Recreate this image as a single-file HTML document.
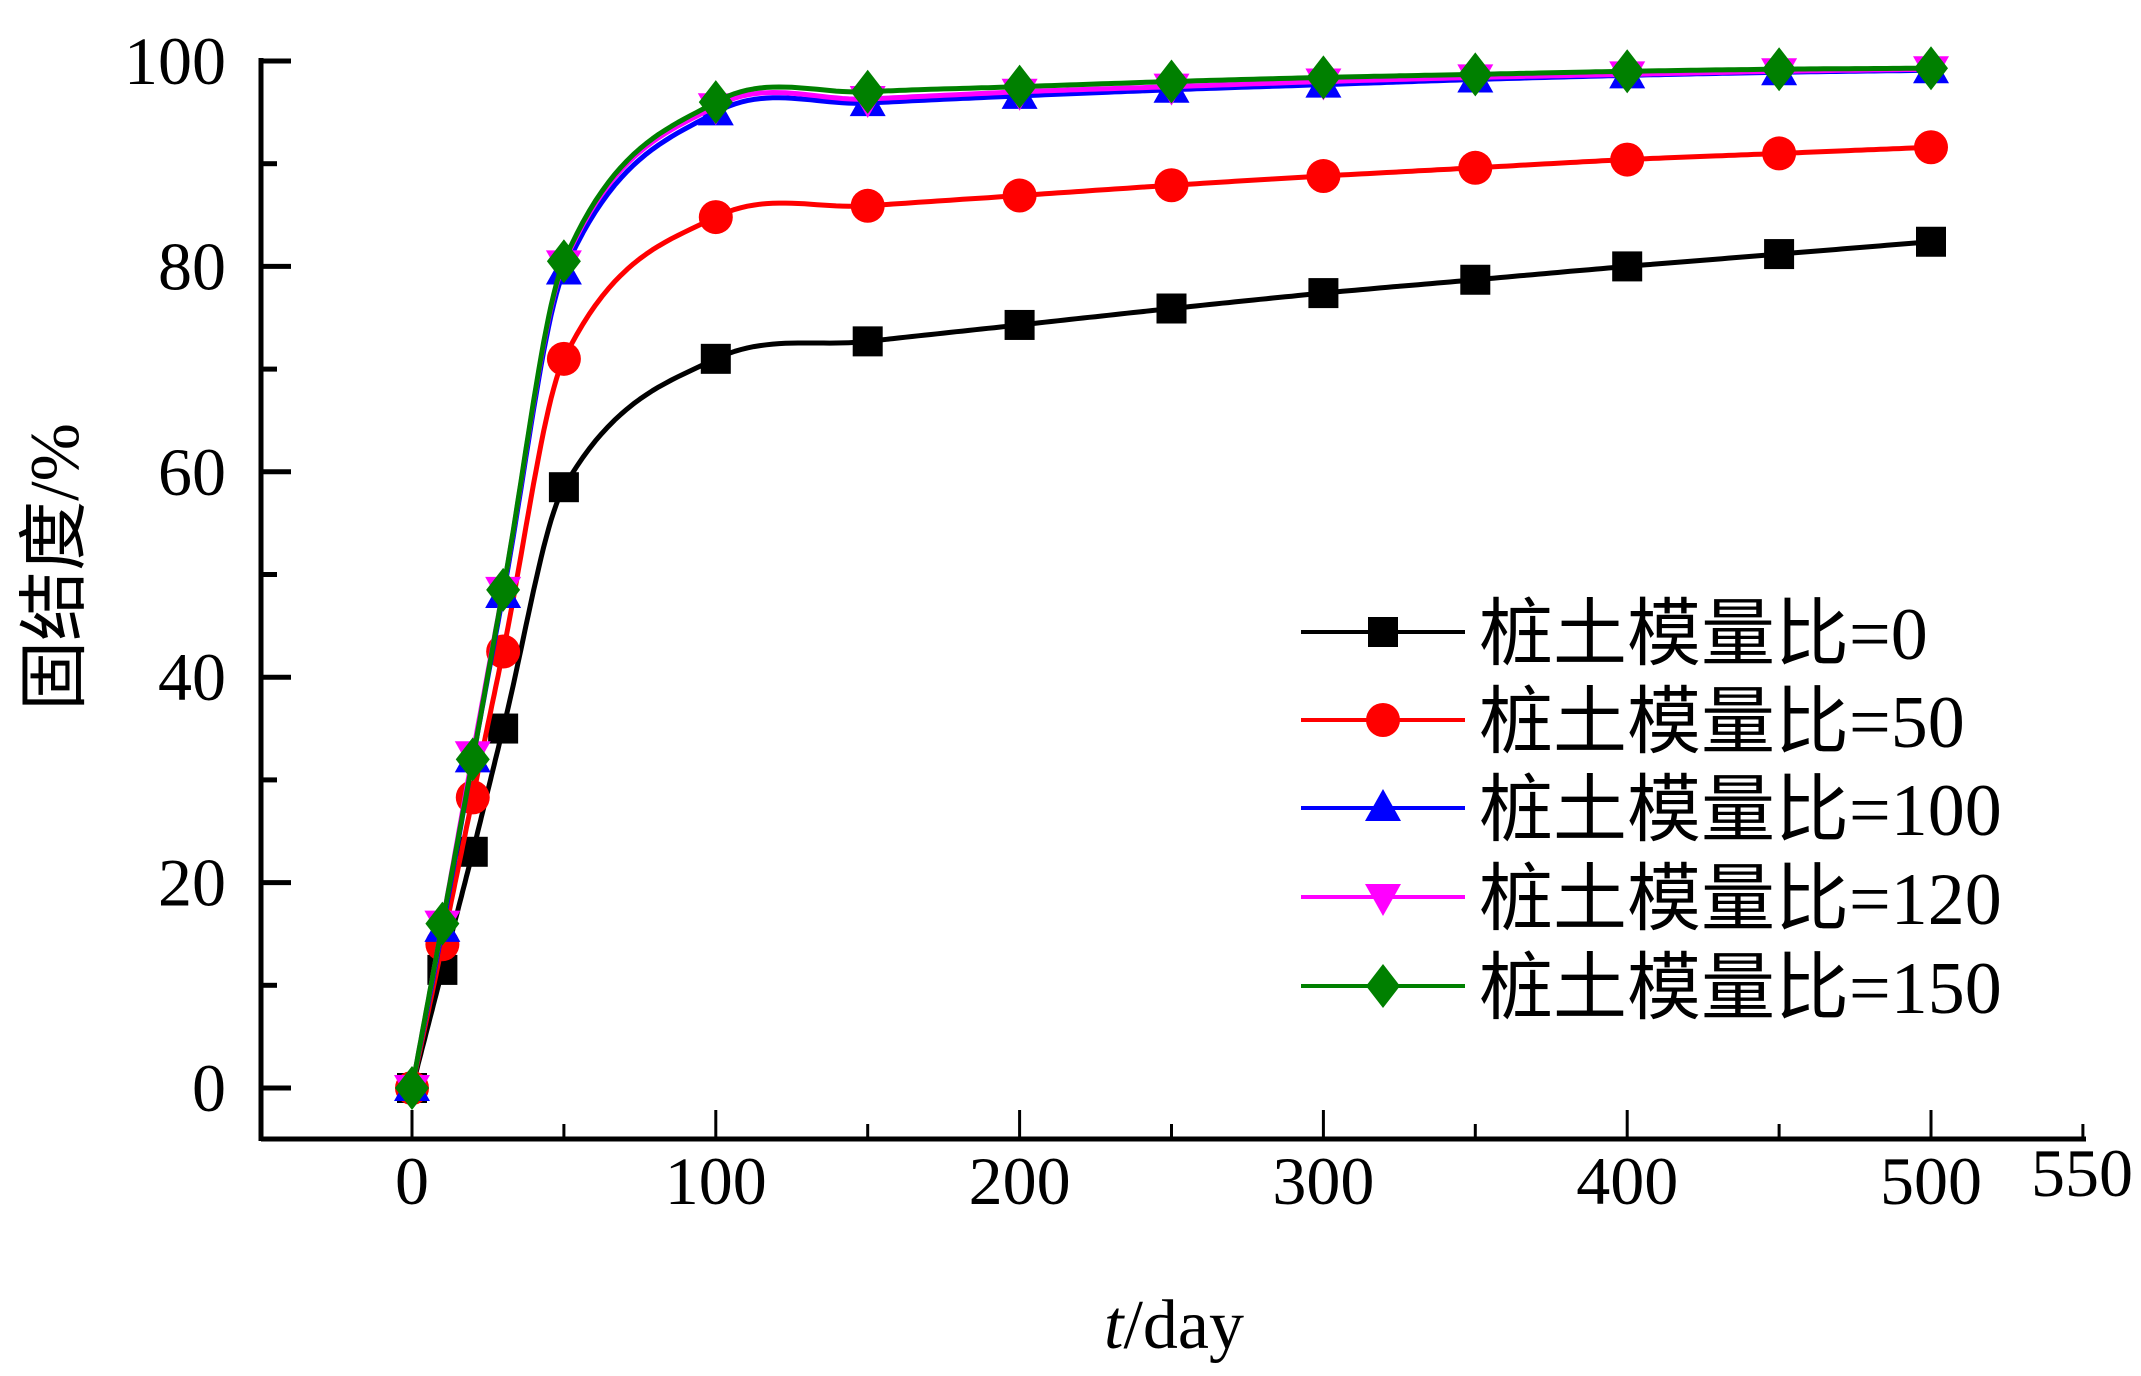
<!DOCTYPE html>
<html><head><meta charset="utf-8"><style>
html,body{margin:0;padding:0;background:#fff;}
svg{display:block;}
text{font-family:"Liberation Serif","Noto Serif CJK SC",serif;}
</style></head><body>
<svg id="chart" width="2141" height="1376" viewBox="0 0 2141 1376" xmlns="http://www.w3.org/2000/svg">
<g id="axes"></g>
<g id="series"></g>
<g id="legend"></g>
<text transform="translate(78,567) rotate(-90)" text-anchor="middle" font-size="70" style="font-family:'Liberation Serif','Noto Sans CJK SC',sans-serif">固结度/%</text>
<text x="1174" y="1348" text-anchor="middle" font-size="70"><tspan font-style="italic">t</tspan>/day</text>
</svg>
<script>
const times = [0,10,20,30,50,100,150,200,250,300,350,400,450,500];
const s0 = [0,11.5,23,35,58.5,71,72.7,74.3,75.9,77.4,78.7,80,81.2,82.4];
const s50 = [0,14,28.3,42.5,71,84.8,85.9,86.9,87.9,88.8,89.6,90.4,91,91.6];
const s100 = [0,15.5,32,48,79.5,95,95.9,96.6,97.2,97.7,98.2,98.6,98.9,99.1];
const s120 = [0,16,32.5,48.5,80.3,95.6,96.3,97,97.5,98,98.4,98.7,99,99.2];
const s150 = [0,16,32,48.5,80.5,96,97,97.5,98,98.4,98.7,99,99.2,99.3];
const seriesNames = ["桩土模量比=0","桩土模量比=50","桩土模量比=100","桩土模量比=120","桩土模量比=150"];
const xTicks = [0,100,200,300,400,500];
const yTicks = [0,20,40,60,80,100];

const NS="http://www.w3.org/2000/svg";
const X0=412, XS=(1931-412)/500, Y0=1088, YS=(1088-61)/100;
const xs=v=>X0+v*XS, ys=v=>Y0-v*YS;
function mk(tag,attrs,parent){const e=document.createElementNS(NS,tag);for(const k in attrs)e.setAttribute(k,attrs[k]);parent.appendChild(e);return e;}
const axes=document.getElementById('axes');
let e;
e=mk('line',{x1:261,y1:1139,x2:2086,y2:1139,stroke:'#000','stroke-width':5},axes);


e=mk('line',{x1:261,y1:58,x2:261,y2:1141,stroke:'#000','stroke-width':5},axes);


for(let v=0;v<=550;v+=50){
  const major=v%100===0;
  e=mk('line',{x1:xs(v),y1:1139,x2:xs(v),y2:major?1110:1124,stroke:'#000','stroke-width':3},axes);
  
  
}
xTicks.forEach(v=>{
  e=mk('text',{x:xs(v),y:1204,'text-anchor':'middle','font-size':68},axes);e.textContent=v;
  
  
});
e=mk('text',{x:2082,y:1196,'text-anchor':'middle','font-size':68},axes);e.textContent='550';


for(let v=0;v<=100;v+=10){
  const major=v%20===0;
  e=mk('line',{x1:261,y1:ys(v),x2:major?291:277,y2:ys(v),stroke:'#000','stroke-width':5},axes);
  
  
}
yTicks.forEach(v=>{
  e=mk('text',{x:226,y:ys(v)+23,'text-anchor':'end','font-size':68},axes);e.textContent=v;
  
  
});

function curve(xv,yv){
  const n=xv.length,m=[];
  for(let i=0;i<n;i++){
    if(i===0)m.push((yv[1]-yv[0])/(xv[1]-xv[0]));
    else if(i===n-1)m.push((yv[n-1]-yv[n-2])/(xv[n-1]-xv[n-2]));
    else m.push((yv[i+1]-yv[i-1])/(xv[i+1]-xv[i-1]));
  }
  const pts=[];
  for(let i=0;i<n-1;i++){
    const h=xv[i+1]-xv[i];
    for(let k=0;k<24;k++){
      const t=k/24,t2=t*t,t3=t2*t;
      const y=(2*t3-3*t2+1)*yv[i]+(t3-2*t2+t)*h*m[i]+(-2*t3+3*t2)*yv[i+1]+(t3-t2)*h*m[i+1];
      pts.push([xv[i]+t*h,y]);
    }
  }
  pts.push([xv[n-1],yv[n-1]]);
  return pts;
}
const colors=['#000','#f00','#00f','#f0f','#008000'];
const shapes=['square','circle','up','down','diamond'];
const data=[s0,s50,s100,s120,s150];
function marker(shape,cx,cy,col,parent){
  let m;
  if(shape==='square')m=mk('rect',{x:cx-15,y:cy-15,width:30,height:30,fill:col},parent);
  else if(shape==='circle')m=mk('circle',{cx:cx,cy:cy,r:17,fill:col},parent);
  else if(shape==='up')m=mk('polygon',{points:`${cx},${cy-19} ${cx-18},${cy+13} ${cx+18},${cy+13}`,fill:col},parent);
  else if(shape==='down')m=mk('polygon',{points:`${cx},${cy+19} ${cx-18},${cy-13} ${cx+18},${cy-13}`,fill:col},parent);
  else m=mk('polygon',{points:`${cx},${cy-22} ${cx+17},${cy} ${cx},${cy+22} ${cx-17},${cy}`,fill:col},parent);
  return m;
}
const sg=document.getElementById('series');
data.forEach((s,i)=>{
  const g=mk('g',{},sg);
  
  
  const pts=curve(times,s);
  const p=mk('path',{d:'M'+pts.map(q=>xs(q[0]).toFixed(1)+','+ys(q[1]).toFixed(1)).join('L'),fill:'none',stroke:colors[i],'stroke-width':5,'stroke-linejoin':'round'},g);
  
  
  times.forEach((t,j)=>{
    const m=marker(shapes[i],xs(t),ys(s[j]),colors[i],g);
    
    
  });
});
const lg=document.getElementById('legend');
const rowY=[632,720,808,897,986];
seriesNames.forEach((nm,i)=>{
  const g=mk('g',{},lg);
  
  
  mk('line',{x1:1301,y1:rowY[i],x2:1465,y2:rowY[i],stroke:colors[i],'stroke-width':4},g);
  marker(shapes[i],1383,rowY[i],colors[i],g);
  const t=mk('text',{x:1479,y:rowY[i]+27,'font-size':74},g);
  t.setAttribute('style',"font-family:'Liberation Serif','Noto Sans CJK SC',serif");
  t.textContent=nm;
});
</script>
</body></html>
